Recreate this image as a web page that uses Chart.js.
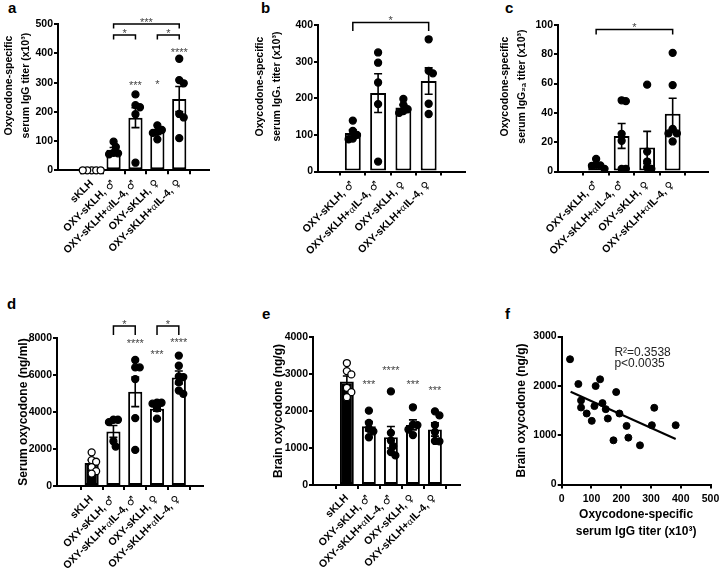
<!DOCTYPE html>
<html>
<head>
<meta charset="utf-8">
<script src="https://cdn.jsdelivr.net/npm/chart.js@4.4.1/dist/chart.umd.min.js"></script>
<style>
    @font-face { font-family: "LblSym"; src: local("DejaVu Sans Bold"), local("DejaVuSans-Bold"); unicode-range: U+2640-2642; font-weight: bold; }
    @font-face { font-family: "LblSym"; src: local("Liberation Serif"), local("LiberationSerif"); unicode-range: U+03B1; font-weight: bold; }
    body { margin: 0; width: 720px; height: 575px; position: relative; overflow: hidden; background: #fff; }
    canvas { position: absolute; }
    .tag { position: absolute; font: bold 15px "Liberation Sans", Arial, sans-serif; line-height: 1; color: #000; }
</style>
</head>
<body>
<div class="tag" style="left:8px;top:0px">a</div>
<div class="tag" style="left:261px;top:0px">b</div>
<div class="tag" style="left:505px;top:0px">c</div>
<div class="tag" style="left:7px;top:296px">d</div>
<div class="tag" style="left:262px;top:306px">e</div>
<div class="tag" style="left:505px;top:306px">f</div>

<canvas id="chartA" width="240" height="290" style="left:0;top:0"></canvas>
<canvas id="chartB" width="240" height="290" style="left:240px;top:0"></canvas>
<canvas id="chartC" width="240" height="290" style="left:480px;top:0"></canvas>
<canvas id="chartD" width="240" height="285" style="left:0;top:290px"></canvas>
<canvas id="chartE" width="240" height="285" style="left:240px;top:290px"></canvas>
<canvas id="chartF" width="240" height="285" style="left:480px;top:290px"></canvas>

<script>
// ================= DATA =================
const groups5 = ["sKLH", "OXY-sKLH, \u2642", "OXY-sKLH+\u03b1IL-4, \u2642", "OXY-sKLH, \u2640", "OXY-sKLH+\u03b1IL-4, \u2640"];
const groups4 = groups5.slice(1);

// a: IgG titer (x10^3)
const iggMean = [0, 70, 180, 131, 244];
const iggSem = [0, 8, 34, 8, 43];
const iggPoints = [
    [0, 0, 0, 0, 0],
    [80, 98, 55, 60, 58],
    [260, 216, 223, 192, 26],
    [106, 154, 138, 132, 128],
    [382, 309, 298, 193, 181, 110]
];
const iggBrackets = [[1, 4, 501, "***"], [1, 2, 463, "*"], [3, 4, 463, "*"]];
const iggStars = ["", "", "***", "*", "****"];
const iggStarY = [0, 0, 300, 303, 411];

// b: IgG1 titer (x10^3)
const igg1Mean = [105, 214, 175, 247];
const igg1Sem = [9, 53, 7, 36];
const igg1Points = [
    [139, 88, 111, 90, 100],
    [325, 297, 243, 184, 27],
    [198, 165, 182, 170, 160],
    [361, 268, 275, 185, 157]
];
const igg1Brackets = [[0, 3, 407, "*"]];

// c: IgG2a titer (x10^3)
const igg2aMean = [4.3, 24.3, 16.4, 39.5];
const igg2aSem = [1, 8.5, 11, 10.5];
const igg2aPoints = [
    [8.6, 1.8, 4.5, 4.1, 3.9],
    [48, 48.6, 25.7, 21, 1.8, 1.8],
    [59.3, 13.6, 6.8, 1.8, 2.7],
    [81, 59, 26, 29, 26, 20.5]
];
const igg2aBrackets = [[0, 3, 97, "*"]];

// d: serum oxycodone (ng/ml)
const serumMean = [1250, 2950, 5090, 4180, 5870];
const serumSem = [150, 320, 800, 130, 350];
const serumPoints = [
    [1820, 1400, 1310, 1020, 670, 800],
    [3580, 3450, 3580, 2130, 2420],
    [6810, 6410, 6410, 5780, 3670, 1950],
    [4500, 4510, 4450, 4200, 3640],
    [7050, 6500, 5920, 5890, 5600, 4980, 5160]
];
const serumBrackets = [[1, 2, 8650, "*"], [3, 4, 8650, "*"]];
const serumStars = ["", "", "****", "***", "****"];
const serumStarY = [0, 0, 7854, 7259, 7892];

// e: brain oxycodone (ng/g)
const brainMean = [2800, 1590, 1290, 1625, 1500];
const brainSem = [145, 127, 290, 135, 180];
const brainPoints = [
    [3296, 2989, 3079, 2627, 2375, 2510],
    [2010, 1680, 1290, 1520, 1450],
    [2530, 1410, 800, 890, 1200, 1050],
    [2100, 1630, 1620, 1350, 1500],
    [1880, 1990, 1430, 1620, 1180, 1190]
];
const brainStars = ["", "***", "****", "***", "***"];
const brainStarY = [0, 2776, 3154, 2776, 2630];

// f: brain oxycodone vs IgG titer
const titerX = [28, 56, 65, 65, 84, 101, 110, 114, 129, 137, 148, 155, 183, 194, 174, 218, 224, 263, 303, 311, 383];
const brainY = [2539, 2037, 1704, 1561, 1439, 1290, 1589, 1996, 2132, 1650, 1527, 1337, 1874, 1439, 896, 1188, 950, 794, 1202, 1555, 1202];
const fitX = [30, 383];
const fitY = [1880, 923];
const fitStats = ["R\u00b2=0.3538", "p<0.0035"];


// ================= HELPERS =================
const FONT = "'Liberation Sans', Arial, Helvetica, sans-serif";
const LABEL_FONT = "LblSym, 'Liberation Sans', Arial, sans-serif";
const LIFT = "        "; // pushes the two-line titles a bit up the axis, like the original
Chart.defaults.font.family = FONT;
Chart.defaults.color = "#000";

function fixBox(w, h) {
    return scale => {
        if (w != null) scale.width = w;
        if (h != null) scale.height = h;
        scale.paddingLeft = scale.paddingRight = scale.paddingTop = scale.paddingBottom = 0;
    };
}

function axis(extra) {
    return Object.assign({
        border: { display: true, color: "#000", width: 2 },
        grid: { display: true, drawOnChartArea: false, drawTicks: true, tickLength: 4, color: "#000", lineWidth: 2 },
    }, extra);
}

// simple beeswarm so dots of one group do not sit on top of each other
function swarm(vals, cx, pxY, pxX, r) {
    const done = [], out = [];
    vals.map((v, i) => i).sort((a, b) => vals[b] - vals[a]).forEach(i => {
        const py = vals[i] * pxY;
        let dx = 0;
        for (let k = 0; k < 25; k++) {
            const s = k === 0 ? 0 : (k % 2 ? 1 : -1) * Math.ceil(k / 2);
            const px = s * r * 0.8;
            if (done.every(p => Math.hypot(p[0] - px, p[1] - py) >= r * 1.6)) { dx = px; break; }
        }
        done.push([dx, py]);
        out.push({ x: cx + dx / pxX, y: vals[i] });
    });
    return out;
}

function errorPlugin(means, sems) {
    return {
        id: "errorBars",
        afterDatasetDraw(chart, args) {
            if (args.index !== 0) return;
            const { ctx, scales: { x, y } } = chart;
            ctx.save();
            ctx.strokeStyle = "#000";
            ctx.lineWidth = 1.6;
            means.forEach((m, i) => {
                if (!sems[i]) return;
                const px = x.getPixelForValue(i);
                const top = y.getPixelForValue(m + sems[i]);
                const bot = y.getPixelForValue(m - sems[i]);
                ctx.beginPath();
                ctx.moveTo(px, top); ctx.lineTo(px, bot);
                ctx.moveTo(px - 4, top); ctx.lineTo(px + 4, top);
                ctx.moveTo(px - 4, bot); ctx.lineTo(px + 4, bot);
                ctx.stroke();
            });
            ctx.restore();
        }
    };
}

function marksPlugin(brackets, stars, starY, drop) {
    return {
        id: "sigMarks",
        afterDraw(chart) {
            const { ctx, scales: { x, y } } = chart;
            ctx.save();
            ctx.strokeStyle = "#000";
            ctx.lineWidth = 1.5;
            ctx.fillStyle = "#444";
            ctx.font = "11px " + FONT;
            ctx.textAlign = "center";
            ctx.textBaseline = "alphabetic";
            brackets.forEach(b => {
                const x1 = x.getPixelForValue(b[0]), x2 = x.getPixelForValue(b[1]);
                const yy = y.getPixelForValue(b[2]);
                ctx.beginPath();
                ctx.moveTo(x1, yy + drop); ctx.lineTo(x1, yy); ctx.lineTo(x2, yy); ctx.lineTo(x2, yy + drop);
                ctx.stroke();
                ctx.fillText(b[3], (x1 + x2) / 2, yy + 2);
            });
            stars.forEach((s, i) => {
                if (!s) return;
                ctx.fillText(s, x.getPixelForValue(i), y.getPixelForValue(starY[i]) + 6);
            });
            ctx.restore();
        }
    };
}


// ================= BAR PANELS =================
function barPanel(id, p) {
    const canvas = document.getElementById(id);
    const W = canvas.width, H = canvas.height;

    const chart = new Chart(canvas, {
        type: "bar",
        data: {
            datasets: [{
                type: "bar",
                data: p.means.map((m, i) => ({ x: i, y: m })),
                backgroundColor: p.means.map((m, i) => i === p.filled ? "#000" : "#fff"),
                borderColor: "#000",
                borderWidth: 2,
                borderSkipped: false,
                barPercentage: p.barPct,
                categoryPercentage: 1,
                order: 2
            }, {
                type: "scatter",
                data: [],
                pointRadius: 3.5,
                pointBorderColor: "#000",
                pointBorderWidth: 1.3,
                pointBackgroundColor: "#000",
                clip: false,
                order: 1
            }]
        },
        options: {
            responsive: false,
            animation: false,
            events: [],
            layout: { padding: { left: 0, top: p.area.top, right: W - p.area.right, bottom: 0 } },
            plugins: { legend: { display: false }, tooltip: { enabled: false } },
            scales: {
                x: axis({
                    type: "linear",
                    min: p.xMin,
                    max: p.xMax,
                    afterFit: fixBox(null, H - p.area.bottom),
                    ticks: {
                        stepSize: 1, autoSkip: false, includeBounds: false,
                        maxRotation: 45, minRotation: 45, padding: 3,
                        font: { family: LABEL_FONT, size: 10.5, weight: "bold" },
                        callback: v => p.labels[v] ?? ""
                    }
                }),
                y: axis({
                    min: 0,
                    max: p.yMax,
                    afterFit: fixBox(p.area.left, null),
                    ticks: { stepSize: p.yStep, padding: 1, font: { size: 10.5, weight: "bold" }, callback: v => String(v) },
                    title: {
                        display: true,
                        text: p.yTitle,
                        font: { size: p.titleSize, weight: "bold", lineHeight: p.titleLH },
                        padding: { top: p.titlePad, bottom: 0 }
                    }
                })
            }
        },
        plugins: [errorPlugin(p.means, p.sems), marksPlugin(p.brackets || [], p.stars || [], p.starY || [], p.drop || 5)]
    });

    // jitter dots now that the scales are known
    const xs = chart.scales.x, ys = chart.scales.y;
    const pxX = xs.width / (xs.max - xs.min);
    const pxY = ys.height / (ys.max - ys.min);
    const pts = [], fills = [];
    p.points.forEach((g, i) => {
        swarm(g, i, pxY, pxX, 3.5).forEach(pt => {
            pts.push(pt);
            fills.push(i === p.hollow ? "#fff" : "#000");
        });
    });
    chart.data.datasets[1].data = pts;
    chart.data.datasets[1].pointBackgroundColor = fills;
    chart.update("none");
    return chart;
}


// ================= SCATTER PANEL =================
const statsPlugin = {
    id: "fitStats",
    afterDraw(chart) {
        const { ctx, scales: { x, y } } = chart;
        const at = [[177, 2674], [177, 2444]];
        ctx.save();
        ctx.fillStyle = "#222";
        ctx.font = "12px " + FONT;
        ctx.textAlign = "left";
        ctx.textBaseline = "middle";
        fitStats.forEach((t, i) => ctx.fillText(t, x.getPixelForValue(at[i][0]), y.getPixelForValue(at[i][1])));
        ctx.restore();
    }
};

function scatterPanel(id) {
    const canvas = document.getElementById(id);
    const W = canvas.width, H = canvas.height;
    const area = { left: 81.7, top: 46.5, right: 230.5, bottom: 194.5 };

    new Chart(canvas, {
        type: "scatter",
        data: {
            datasets: [{
                data: titerX.map((x, i) => ({ x: x, y: brainY[i] })),
                pointRadius: 3.5,
                pointBackgroundColor: "#000",
                pointBorderColor: "#000",
                clip: false,
                order: 1
            }, {
                type: "line",
                data: fitX.map((x, i) => ({ x: x, y: fitY[i] })),
                borderColor: "#000",
                borderWidth: 2,
                pointRadius: 0,
                fill: false,
                order: 2
            }]
        },
        options: {
            responsive: false,
            animation: false,
            events: [],
            layout: { padding: { left: 0, top: area.top, right: W - area.right, bottom: 0 } },
            plugins: { legend: { display: false }, tooltip: { enabled: false } },
            scales: {
                x: axis({
                    type: "linear", min: 0, max: 500,
                    afterFit: fixBox(null, H - area.bottom),
                    ticks: { stepSize: 100, padding: 4, maxRotation: 0, font: { size: 10.5, weight: "bold" }, callback: v => String(v) },
                    title: {
                        display: true,
                        text: ["Oxycodone-specific", "serum IgG titer (x10\u00b3)"],
                        font: { size: 12, weight: "bold", lineHeight: 1.42 },
                        padding: { top: 0, bottom: 34.5 }
                    }
                }),
                y: axis({
                    min: 0, max: 3000,
                    afterFit: fixBox(area.left, null),
                    ticks: { stepSize: 1000, padding: 1, font: { size: 10.5, weight: "bold" }, callback: v => String(v) },
                    title: {
                        display: true,
                        text: "Brain oxycodone (ng/g)",
                        font: { size: 12, weight: "bold", lineHeight: 1.2 },
                        padding: { top: 34, bottom: 0 }
                    }
                })
            }
        },
        plugins: [statsPlugin]
    });
}


// ================= START =================
function drawAll() {
    barPanel("chartA", {
        labels: groups5, means: iggMean, sems: iggSem, points: iggPoints,
        brackets: iggBrackets, stars: iggStars, starY: iggStarY, drop: 4.5,
        area: { left: 58, top: 24.3, right: 209, bottom: 170.3 },
        xMin: -0.85, xMax: 4.67, yMax: 500, yStep: 100, barPct: 0.65,
        filled: -1, hollow: 0,
        yTitle: [LIFT + "Oxycodone-specific", LIFT + "serum IgG titer (x10\u00b3)"], titleSize: 10.5, titleLH: 1.65, titlePad: 0
    });

    barPanel("chartB", {
        labels: groups4, means: igg1Mean, sems: igg1Sem, points: igg1Points,
        brackets: igg1Brackets, drop: 8.5,
        area: { left: 78, top: 25, right: 225, bottom: 171.5 },
        xMin: -0.65, xMax: 3.71, yMax: 400, yStep: 100, barPct: 0.63,
        filled: -1, hollow: -1,
        yTitle: [LIFT + "Oxycodone-specific", LIFT + "serum IgG\u2081 titer (x10\u00b3)"], titleSize: 10.5, titleLH: 1.65, titlePad: 11.5
    });

    barPanel("chartC", {
        labels: groups4, means: igg2aMean, sems: igg2aSem, points: igg2aPoints,
        brackets: igg2aBrackets, drop: 5,
        area: { left: 78, top: 25, right: 228, bottom: 171.5 },
        xMin: -0.76, xMax: 3.65, yMax: 100, yStep: 20, barPct: 0.62,
        filled: -1, hollow: -1,
        yTitle: [LIFT + "Oxycodone-specific", LIFT + "serum IgG\u2082\u2090 titer (x10\u00b3)"], titleSize: 10.5, titleLH: 1.65, titlePad: 16
    });

    barPanel("chartD", {
        labels: groups5, means: serumMean, sems: serumSem, points: serumPoints,
        brackets: serumBrackets, stars: serumStars, starY: serumStarY, drop: 9,
        area: { left: 57, top: 48, right: 203, bottom: 196 },
        xMin: -0.92, xMax: 4.44, yMax: 8000, yStep: 2000, barPct: 0.65,
        filled: 0, hollow: 0,
        yTitle: "Serum oxycodone (ng/ml)", titleSize: 12, titleLH: 1.2, titlePad: 16
    });

    barPanel("chartE", {
        labels: groups5, means: brainMean, sems: brainSem, points: brainPoints,
        stars: brainStars, starY: brainStarY,
        area: { left: 73, top: 47, right: 220, bottom: 195 },
        xMin: -0.87, xMax: 4.47, yMax: 4000, yStep: 1000, barPct: 0.63,
        filled: 0, hollow: 0,
        yTitle: "Brain oxycodone (ng/g)", titleSize: 12, titleLH: 1.2, titlePad: 31
    });

    scatterPanel("chartF");
}

document.fonts.load("bold 10.5px LblSym", "\u2642\u2640\u03b1").then(drawAll, drawAll);
</script>
</body>
</html>
